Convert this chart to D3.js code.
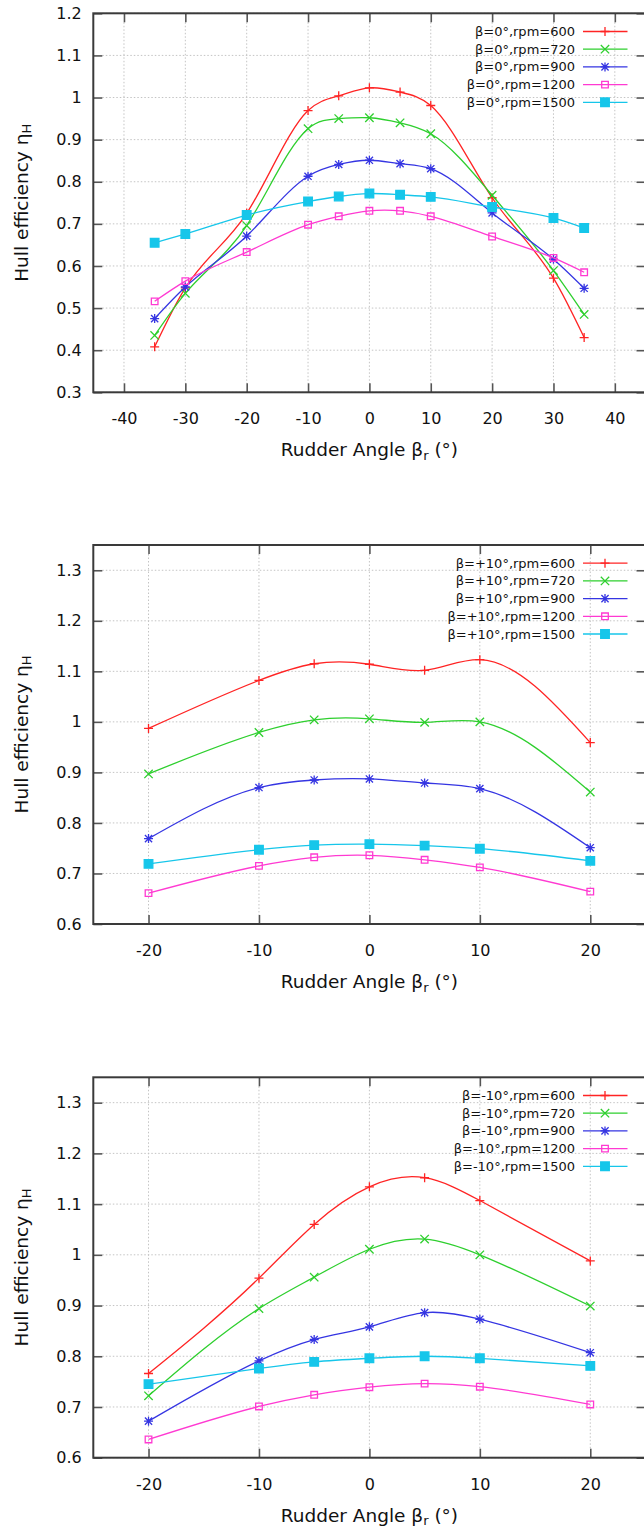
<!DOCTYPE html>
<html><head><meta charset="utf-8">
<script src="https://cdn.jsdelivr.net/npm/d3@7"></script>
<style>
html,body{margin:0;padding:0;background:#fff;}
svg{display:block;}
text{font-family:"DejaVu Sans",Verdana,sans-serif;fill:#111;}
</style></head>
<body>
<svg id="chart" width="644" height="1530"></svg>
<script>
// ---------- data ----------
const seriesNames = ["rpm=600","rpm=720","rpm=900","rpm=1200","rpm=1500"];
const seriesColors = ["#ff2424","#2ecf2e","#3535e2","#ff3ad2","#16c6ea"];
const seriesMarkers = ["plus","cross","star","openSquare","filledSquare"];

// Panel 1: beta = 0 deg
const p1Label = "β=0°,";
const p1Angles = [-35,-30,-20,-10,-5,0,5,10,20,30,35];
const p1Rpm600  = [0.408,0.548,0.725,0.969,1.004,1.023,1.013,0.981,0.762,0.571,0.430];
const p1Rpm720  = [0.435,0.535,0.696,0.926,0.950,0.952,0.940,0.914,0.768,0.589,0.485];
const p1Rpm900  = [0.475,0.550,0.671,0.813,0.841,0.851,0.843,0.831,0.726,0.616,0.547];
const p1Rpm1200 = [0.516,0.564,0.633,0.698,0.718,0.731,0.731,0.718,0.670,0.619,0.585];
const p1Rpm1500 = [0.655,0.676,0.721,0.753,0.765,0.772,0.769,0.764,0.740,0.714,0.690];
const p1XTicks = [-40,-30,-20,-10,0,10,20,30,40];
const p1YTicks = [0.3,0.4,0.5,0.6,0.7,0.8,0.9,1.0,1.1,1.2];

// Panel 2: beta = +10 deg
const p2Label = "β=+10°,";
const p2Angles = [-20,-10,-5,0,5,10,20];
const p2Rpm600  = [0.987,1.082,1.115,1.114,1.102,1.123,0.959];
const p2Rpm720  = [0.897,0.979,1.004,1.006,0.999,1.000,0.861];
const p2Rpm900  = [0.769,0.870,0.885,0.887,0.879,0.868,0.751];
const p2Rpm1200 = [0.661,0.715,0.732,0.736,0.727,0.712,0.664];
const p2Rpm1500 = [0.719,0.747,0.756,0.758,0.755,0.749,0.725];

// Panel 3: beta = -10 deg
const p3Label = "β=-10°,";
const p3Angles = [-20,-10,-5,0,5,10,20];
const p3Rpm600  = [0.766,0.954,1.060,1.134,1.152,1.107,0.988];
const p3Rpm720  = [0.722,0.894,0.956,1.011,1.031,1.000,0.899];
const p3Rpm900  = [0.672,0.791,0.833,0.858,0.886,0.873,0.807];
const p3Rpm1200 = [0.636,0.701,0.724,0.739,0.746,0.740,0.705];
const p3Rpm1500 = [0.745,0.776,0.789,0.796,0.800,0.796,0.781];
const p23XTicks = [-20,-10,0,10,20];
const p23YTicks = [0.6,0.7,0.8,0.9,1.0,1.1,1.2,1.3];

// ---------- layout ----------
const panels = [
  {label:p1Label, angles:p1Angles, series:[p1Rpm600,p1Rpm720,p1Rpm900,p1Rpm1200,p1Rpm1500],
   xDomain:[-45,45], yDomain:[0.3,1.2], xTicks:p1XTicks, yTicks:p1YTicks, top:13.3, bottom:392.3},
  {label:p2Label, angles:p2Angles, series:[p2Rpm600,p2Rpm720,p2Rpm900,p2Rpm1200,p2Rpm1500],
   xDomain:[-25,25], yDomain:[0.6,1.35], xTicks:p23XTicks, yTicks:p23YTicks, top:545, bottom:924},
  {label:p3Label, angles:p3Angles, series:[p3Rpm600,p3Rpm720,p3Rpm900,p3Rpm1200,p3Rpm1500],
   xDomain:[-25,25], yDomain:[0.6,1.35], xTicks:p23XTicks, yTicks:p23YTicks, top:1077.3, bottom:1457.7}
];
const left = 93.3, right = 645.5;
const svg = d3.select("#chart");

// natural cubic spline in x (like gnuplot "smooth csplines"), as a d3 curve
function CurveXSpline(context){ this._context = context; }
CurveXSpline.prototype = {
  areaStart(){}, areaEnd(){},
  lineStart(){ this._x = []; this._y = []; },
  point(x, y){ this._x.push(+x); this._y.push(+y); },
  lineEnd(){
    const X = this._x, Y = this._y, n = X.length, c = this._context;
    if (!n) return;
    c.moveTo(X[0], Y[0]);
    if (n < 3){ for (let i=1;i<n;i++) c.lineTo(X[i], Y[i]); return; }
    const h = [], M = new Array(n).fill(0);
    for (let i=0;i<n-1;i++) h.push(X[i+1]-X[i]);
    const a=[], b=[], cc=[], d=[];
    for (let i=1;i<n-1;i++){
      a.push(h[i-1]); b.push(2*(h[i-1]+h[i])); cc.push(h[i]);
      d.push(6*((Y[i+1]-Y[i])/h[i] - (Y[i]-Y[i-1])/h[i-1]));
    }
    const m = b.length;
    for (let i=1;i<m;i++){ const w = a[i]/b[i-1]; b[i] -= w*cc[i-1]; d[i] -= w*d[i-1]; }
    const sol = new Array(m);
    sol[m-1] = d[m-1]/b[m-1];
    for (let i=m-2;i>=0;i--) sol[i] = (d[i] - cc[i]*sol[i+1])/b[i];
    for (let i=0;i<m;i++) M[i+1] = sol[i];
    for (let i=0;i<n-1;i++){
      const hi = h[i], s = (Y[i+1]-Y[i])/hi;
      const d0 = s - hi*(2*M[i]+M[i+1])/6;
      const d1 = s + hi*(M[i]+2*M[i+1])/6;
      c.bezierCurveTo(X[i]+hi/3, Y[i]+d0*hi/3, X[i+1]-hi/3, Y[i+1]-d1*hi/3, X[i+1], Y[i+1]);
    }
  }
};
const curveXSpline = ctx => new CurveXSpline(ctx);

function markerPath(type, s){
  switch(type){
    case "plus": return `M${-s},0H${s}M0,${-s}V${s}`;
    case "cross": return `M${-s},${-s}L${s},${s}M${-s},${s}L${s},${-s}`;
    case "star": return `M${-s},0H${s}M0,${-s}V${s}M${-s*0.8},${-s*0.8}L${s*0.8},${s*0.8}M${-s*0.8},${s*0.8}L${s*0.8},${-s*0.8}`;
    case "openSquare": return `M${-s},${-s}H${s}V${s}H${-s}Z`;
    case "filledSquare": return `M${-s},${-s}H${s}V${s}H${-s}Z`;
  }
}
const markerSize = {plus:4.5, cross:4.2, star:4.5, openSquare:3.3, filledSquare:4.3};
function drawMarker(g, type, color, x, y){
  g.append("path").attr("d", markerPath(type, markerSize[type]))
    .attr("transform", `translate(${x},${y})`)
    .attr("fill", type==="filledSquare" ? color : "none")
    .attr("stroke", color).attr("stroke-width", 1.3);
}
const fmtY = v => String(+v.toFixed(1));
const fmtX = v => String(v);

panels.forEach(p => {
  const x = d3.scaleLinear().domain(p.xDomain).range([left, right]);
  const y = d3.scaleLinear().domain(p.yDomain).range([p.bottom, p.top]);
  const g = svg.append("g");

  // grid
  const grid = g.append("g").attr("stroke","#c4c4c4").attr("stroke-width",1).attr("stroke-dasharray","1.5,2");
  p.yTicks.forEach(t => grid.append("line").attr("x1",left+9).attr("x2",right-9).attr("y1",y(t)).attr("y2",y(t)));
  p.xTicks.forEach(t => grid.append("line").attr("x1",x(t)).attr("x2",x(t)).attr("y1",p.top+9).attr("y2",p.bottom-9));

  // axes (inward ticks) with labels
  const ax = g.append("g").attr("transform",`translate(${left},0)`)
    .call(d3.axisLeft(y).tickValues(p.yTicks).tickFormat(fmtY).tickSizeInner(-9).tickSizeOuter(0).tickPadding(11.6));
  const axR = g.append("g").attr("transform",`translate(${right},0)`)
    .call(d3.axisRight(y).tickValues(p.yTicks).tickFormat("").tickSizeInner(-9).tickSizeOuter(0));
  const axB = g.append("g").attr("transform",`translate(0,${p.bottom})`)
    .call(d3.axisBottom(x).tickValues(p.xTicks).tickFormat(fmtX).tickSizeInner(-9).tickSizeOuter(0).tickPadding(20.5));
  const axT = g.append("g").attr("transform",`translate(0,${p.top})`)
    .call(d3.axisTop(x).tickValues(p.xTicks).tickFormat("").tickSizeInner(-9).tickSizeOuter(0));
  [ax,axR,axB,axT].forEach(a => {
    a.select(".domain").remove();
    a.selectAll(".tick line").attr("stroke","#555").attr("stroke-width",1.6);
    a.selectAll(".tick text").attr("font-size",16).attr("fill","#111")
      .attr("font-family",'"DejaVu Sans",Verdana,sans-serif');
  });

  // frame
  g.append("rect").attr("x",left).attr("y",p.top).attr("width",right-left).attr("height",p.bottom-p.top)
    .attr("fill","none").attr("stroke","#3a3a3a").attr("stroke-width",2);

  // series
  const line = d3.line().x(d=>x(d[0])).y(d=>y(d[1])).curve(curveXSpline);
  p.series.forEach((vals, i) => {
    const pts = p.angles.map((a,j)=>[a, vals[j]]);
    g.append("path").attr("d", line(pts)).attr("fill","none")
      .attr("stroke", seriesColors[i]).attr("stroke-width",1.3);
    pts.forEach(d => drawMarker(g, seriesMarkers[i], seriesColors[i], x(d[0]), y(d[1])));
  });

  // legend
  const lg = g.append("g");
  seriesNames.forEach((n,i) => {
    const ly = p.top + 18.2 + i*17.7;
    lg.append("text").attr("x",575).attr("y",ly).attr("dy","0.35em").attr("text-anchor","end")
      .attr("font-size",13).text(p.label + n);
    lg.append("line").attr("x1",583).attr("x2",627.5).attr("y1",ly).attr("y2",ly)
      .attr("stroke",seriesColors[i]).attr("stroke-width",1.3);
    drawMarker(lg, seriesMarkers[i], seriesColors[i], 605, ly);
  });

  // axis titles
  const xt = g.append("text").attr("x", x(0)).attr("y", p.bottom + 64).attr("text-anchor","middle")
    .attr("font-size",18.5);
  xt.append("tspan").text("Rudder Angle β");
  xt.append("tspan").attr("font-size",13).attr("dy",3.5).text("r");
  xt.append("tspan").attr("dy",-3.5).text(" (°)");

  const yt = g.append("text").attr("transform",`translate(27.5,${(p.top+p.bottom)/2}) rotate(-90)`)
    .attr("text-anchor","middle").attr("font-size",18.5);
  yt.append("tspan").text("Hull efficiency η");
  yt.append("tspan").attr("font-size",13).attr("dy",3.5).text("H");
});
</script>
</body></html>
